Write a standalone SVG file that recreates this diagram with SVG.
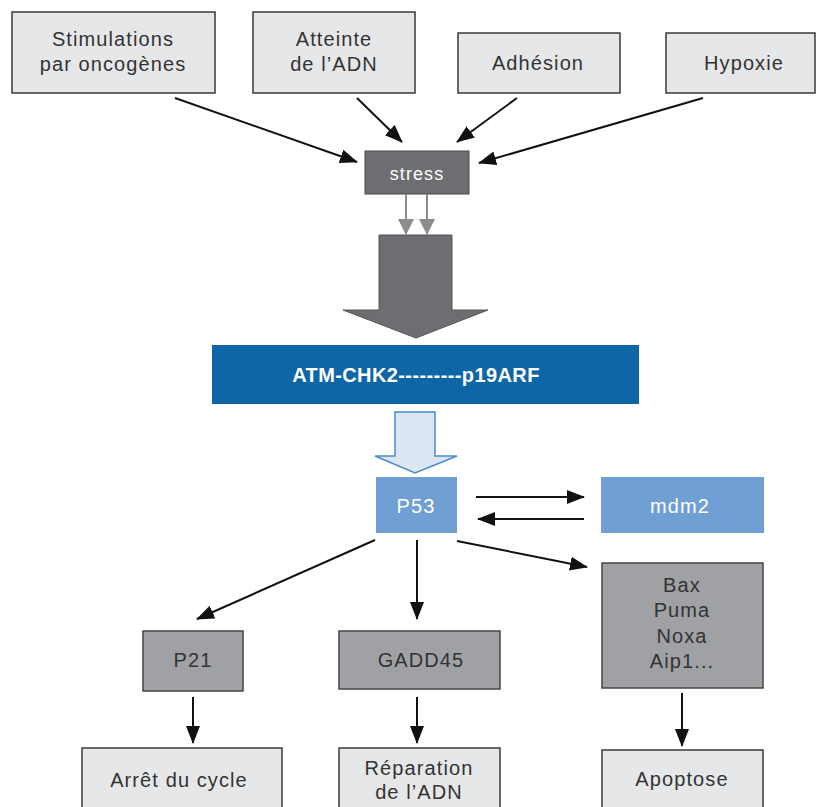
<svg xmlns="http://www.w3.org/2000/svg" width="817" height="807" viewBox="0 0 817 807">
<style>
text{font-family:"Liberation Sans",Arial,sans-serif;font-size:20px;letter-spacing:1.1px;text-anchor:middle}
.lt{fill:#e6e7e8;stroke:#3a3a3a;stroke-width:1.5}
.md{fill:#a0a1a4;stroke:#444;stroke-width:1.5}
.dk{fill:#6d6e71;stroke:#4a4a4c;stroke-width:1}
.bl{fill:#6f9fd3}
.dt{fill:#333}
.wt{fill:#fff}
.ar{stroke:#111;stroke-width:2;fill:none;marker-end:url(#ah)}
.ga{stroke:#8c8c8c;stroke-width:2;fill:none;marker-end:url(#gh)}
</style>
<defs>
<marker id="ah" markerUnits="userSpaceOnUse" markerWidth="18" markerHeight="14" refX="17" refY="7" orient="auto"><path d="M0,0 L18,7 L0,14 z" fill="#111"/></marker>
<marker id="gh" markerUnits="userSpaceOnUse" markerWidth="16" markerHeight="16" refX="15" refY="8" orient="auto"><path d="M0,0 L16,8 L0,16 z" fill="#8c8c8c"/></marker>
</defs>
<rect width="817" height="807" fill="#fff"/>
<g id="n-stim"><rect class="lt" x="12" y="12" width="203" height="81"/><text class="dt" x="113" y="46">Stimulations</text><text class="dt" x="113" y="71">par oncogènes</text></g>
<g id="n-atteinte"><rect class="lt" x="253" y="12" width="162" height="81"/><text class="dt" x="334" y="46">Atteinte</text><text class="dt" x="334" y="71">de l’ADN</text></g>
<g id="n-adhesion"><rect class="lt" x="458" y="33" width="162" height="60"/><text class="dt" x="538" y="70">Adhésion</text></g>
<g id="n-hypoxie"><rect class="lt" x="666" y="33" width="149" height="60"/><text class="dt" x="744" y="70">Hypoxie</text></g>
<g id="n-stress"><rect class="dk" x="365" y="151" width="104" height="43"/><text class="wt" x="417" y="180" style="font-size:18px">stress</text></g>
<g id="n-bigarrow"><polygon points="379,235 452,235 452,310 488,310 416,338 343,310 379,310" fill="#6d6e71" stroke="#555" stroke-width="1"/></g>
<g id="n-atm"><rect x="212" y="345" width="427" height="59" fill="#0e66a6"/><text class="wt" x="416" y="382" style="font-weight:bold;letter-spacing:0.4px">ATM-CHK2---------p19ARF</text></g>
<g id="n-bluearrow"><polygon points="395,412 435,412 435,456 457,456 415,473 375,456 395,456" fill="#dce6f2" stroke="#4a8ccb" stroke-width="1.5"/></g>
<g id="n-p53"><rect class="bl" x="376" y="477" width="81" height="56"/><text class="wt" x="416" y="513">P53</text></g>
<g id="n-mdm2"><rect class="bl" x="601" y="477" width="163" height="56"/><text class="wt" x="680" y="513">mdm2</text></g>
<g id="n-p21"><rect class="md" x="143" y="631" width="100" height="60"/><text class="dt" x="193" y="667">P21</text></g>
<g id="n-gadd45"><rect class="md" x="339" y="631" width="161" height="58"/><text class="dt" x="421" y="667">GADD45</text></g>
<g id="n-bax"><rect class="md" x="602" y="563" width="161" height="125"/><text class="dt" x="682" y="592">Bax</text><text class="dt" x="682" y="617">Puma</text><text class="dt" x="682" y="643">Noxa</text><text class="dt" x="682" y="668">Aip1...</text></g>
<g id="n-arret"><rect class="lt" x="82" y="748" width="200" height="70"/><text class="dt" x="179" y="787">Arrêt du cycle</text></g>
<g id="n-reparation"><rect class="lt" x="339" y="748" width="161" height="70"/><text class="dt" x="419" y="775">Réparation</text><text class="dt" x="419" y="799">de l’ADN</text></g>
<g id="n-apoptose"><rect class="lt" x="602" y="750" width="161" height="70"/><text class="dt" x="682" y="786">Apoptose</text></g>
<g id="connectors">
<line class="ar" x1="175" y1="98" x2="357" y2="162"/>
<line class="ar" x1="357" y1="98" x2="402" y2="142"/>
<line class="ar" x1="517" y1="98" x2="457" y2="142"/>
<line class="ar" x1="703" y1="98" x2="479" y2="163"/>
<line class="ga" x1="406" y1="194" x2="406" y2="234"/>
<line class="ga" x1="427" y1="194" x2="427" y2="234"/>
<line class="ar" x1="476" y1="497" x2="584" y2="497"/>
<line class="ar" x1="584" y1="519" x2="478" y2="519"/>
<line class="ar" x1="375" y1="540" x2="197" y2="619"/>
<line class="ar" x1="417" y1="540" x2="417" y2="619"/>
<line class="ar" x1="457" y1="541" x2="587" y2="567"/>
<line class="ar" x1="193" y1="697" x2="193" y2="743"/>
<line class="ar" x1="417" y1="697" x2="417" y2="743"/>
<line class="ar" x1="682" y1="693" x2="682" y2="746"/>
</g>
</svg>
